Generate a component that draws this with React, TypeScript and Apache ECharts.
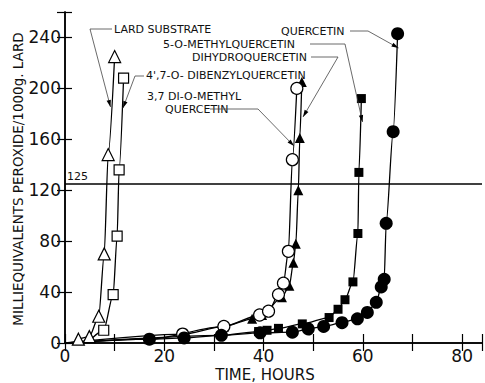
import React, { useEffect, useRef } from "react";
import * as echarts from "echarts";

// [hours, meq peroxide / 1000 g lard]
const lardSubstrate: number[][] = [[2.7, 3], [4.9, 5], [6.8, 21], [7.9, 70], [8.7, 148], [10, 225]];
const dibenzylQuercetin: number[][] = [[5.5, 4], [7.8, 10], [9.7, 38], [10.5, 84], [10.9, 136], [11.8, 208]];
const diMethylQuercetin: number[][] = [[0, 0], [23.7, 7], [32, 13], [39.2, 22], [41, 25], [43, 38], [44, 47], [45, 72], [45.8, 144], [46.7, 200]];
const dihydroQuercetin: number[][] = [[0, 0], [17, 3], [32, 13], [37.7, 19], [39.7, 22], [43.7, 36], [45.2, 45], [46, 63], [46.5, 78], [47, 120], [47.3, 161], [47.7, 205]];
const methylQuercetin5: number[][] = [[0, 0], [31.5, 6], [39, 9], [40.7, 10], [43, 11.5], [47.8, 15], [53.2, 20], [55, 26.5], [56.4, 34], [58, 48], [59, 86], [59.2, 134], [59.7, 192]];
const quercetin: number[][] = [[0, 0], [17, 3], [24, 4], [31.5, 6], [39.3, 8], [45.8, 8.5], [49, 11], [52.1, 13], [55.8, 16], [58.9, 19], [60.9, 24], [62.7, 32], [63.7, 44], [64.3, 50], [64.7, 94], [66.1, 166], [67, 243]];

const referenceLevel = 125;
const xTickLabels = [0, 20, 40, 60, 80];
const yTickLabels = [0, 40, 80, 120, 160, 200, 240];

const FONT = "DejaVu Sans";

function toData(points: number[][], noSymbolFirstAtOrigin = true) {
  return points.map((p, i) =>
    i === 0 && noSymbolFirstAtOrigin && (p[1] <= 4 && (p[0] === 0 || p[0] === 5.5))
      ? { value: p, symbol: "none" }
      : { value: p }
  );
}

function leader(points: number[][]) {
  const n = points.length;
  const [x1, y1] = points[n - 2];
  const [x2, y2] = points[n - 1];
  const dx = x2 - x1, dy = y2 - y1;
  const L = Math.sqrt(dx * dx + dy * dy);
  const ux = dx / L, uy = dy / L;
  const len = 7, w = 2.2;
  const bx = x2 - ux * len, by = y2 - uy * len;
  const head = [
    [x2, y2],
    [bx - uy * w, by + ux * w],
    [bx + uy * w, by - ux * w],
  ];
  return [
    { type: "polyline", shape: { points }, style: { stroke: "#444", lineWidth: 0.8, fill: null }, z: 100 },
    { type: "polygon", shape: { points: head }, style: { fill: "#000" }, z: 100 },
  ];
}

function label(text: string, x: number, y: number) {
  return {
    type: "text",
    x,
    y,
    style: { text, fill: "#111", font: `11px "${FONT}"`, lineHeight: 11, textVerticalAlign: "middle", textAlign: "left" },
    z: 100,
  };
}

export default function App() {
  const ref = useRef<HTMLDivElement>(null);
  useEffect(() => {
    if (!ref.current) return;
    const chart = echarts.init(ref.current, null, { renderer: "svg" });
    const lineStyle = { color: "#000", width: 1.3 };
    const base = {
      type: "line",
      smooth: 0.25,
      smoothMonotone: "x",
      lineStyle,
      z: 3,
    };
    const open = { color: "#fff", borderColor: "#000", borderWidth: 1.2 };
    const filled = { color: "#000", borderColor: "#000", borderWidth: 0 };
    const axisText = { fontFamily: FONT, fontSize: 17, color: "#111", lineHeight: 15 };
    chart.setOption({
      animation: false,
      grid: { left: 65, right: 0, top: 12, bottom: 40 },
      xAxis: [
        {
          type: "value", min: 0, max: 84, interval: 10, position: "bottom",
          axisLine: { lineStyle: { color: "#000", width: 1.5 } },
          axisTick: { inside: true, length: 9, lineStyle: { color: "#000", width: 1.2 } },
          axisLabel: { ...axisText, margin: 5, formatter: (v: number) => (xTickLabels.includes(v) ? String(v) : "") },
          splitLine: { show: false },
        },
        {
          type: "value", min: 0, max: 84, interval: 10, position: "top",
          axisLine: { lineStyle: { color: "#000", width: 1.5 } },
          axisTick: { inside: true, length: 8, lineStyle: { color: "#000", width: 1.2 } },
          axisLabel: { show: false },
          splitLine: { show: false },
        },
      ],
      yAxis: [
        {
          type: "value", min: 0, max: 260, interval: 40, position: "left",
          axisLine: { show: true, lineStyle: { color: "#000", width: 1.5 } },
          axisTick: { show: true, inside: true, length: 7, lineStyle: { color: "#000", width: 1.2 } },
          axisLabel: { ...axisText, margin: 4, formatter: (v: number) => (yTickLabels.includes(v) ? String(v) : "") },
          splitLine: { show: false },
        },
        {
          type: "value", min: 0, max: 260, interval: 40, position: "right",
          axisLine: { show: true, lineStyle: { color: "#000", width: 1.5 } },
          axisTick: { show: true, inside: true, length: 8, lineStyle: { color: "#000", width: 1.2 } },
          axisLabel: { show: false },
          splitLine: { show: false },
        },
      ],
      series: [
        {
          ...base, name: "Lard substrate", data: toData(lardSubstrate), symbol: "triangle", symbolSize: 12, itemStyle: open,
          markLine: {
            silent: true, symbol: ["none", "none"],
            lineStyle: { color: "#000", type: "solid", width: 1.5 },
            label: { formatter: String(referenceLevel), position: "insideStartTop", fontFamily: FONT, fontSize: 11, color: "#111", distance: [2, 2] },
            data: [{ yAxis: referenceLevel }],
          },
        },
        { ...base, name: "4',7-O-dibenzylquercetin", data: toData(dibenzylQuercetin), symbol: "rect", symbolSize: 10, itemStyle: open },
        { ...base, name: "Dihydroquercetin", data: toData(dihydroQuercetin), symbol: "triangle", symbolSize: 10, itemStyle: filled },
        { ...base, name: "3,7 di-O-methylquercetin", data: toData(diMethylQuercetin), symbol: "circle", symbolSize: 12, itemStyle: open },
        { ...base, name: "5-O-methylquercetin", data: toData(methylQuercetin5), symbol: "rect", symbolSize: 9, itemStyle: filled },
        { ...base, name: "Quercetin", data: toData(quercetin), symbol: "circle", symbolSize: 13, itemStyle: filled },
      ],
      graphic: [
        {
          type: "text", x: 18, y: 179, rotation: Math.PI / 2,
          style: { text: "MILLIEQUIVALENTS PEROXIDE/1000g. LARD", fill: "#111", font: `13.5px "${FONT}"`, textAlign: "center", textVerticalAlign: "middle" },
        },
        {
          type: "text", x: 265, y: 375,
          style: { text: "TIME, HOURS", fill: "#111", font: `15px "${FONT}"`, lineHeight: 13, textAlign: "center", textVerticalAlign: "middle" },
        },
        label("LARD SUBSTRATE", 114, 29),
        label("5-O-METHYLQUERCETIN", 163, 44),
        label("DIHYDROQUERCETIN", 192, 57),
        label("4',7-O- DIBENZYLQUERCETIN", 146, 75),
        label("3,7 DI-O-METHYL", 147, 96),
        label("QUERCETIN", 165, 109),
        label("QUERCETIN", 281, 31),
        ...leader([[112, 29], [90, 29], [110.5, 107]]),
        ...leader([[144, 76], [135, 76], [123, 108]]),
        ...leader([[210, 109], [258, 109], [294, 146]]),
        ...leader([[311, 57], [338, 57], [303, 117]]),
        ...leader([[310, 44], [345, 44], [362.5, 122]]),
        ...leader([[350, 31], [368, 31], [398.5, 48]]),
      ],
    });
    return () => chart.dispose();
  }, []);
  return <div ref={ref} style={{ width: 485, height: 383, position: "absolute", left: 0, top: 0 }} />;
}
